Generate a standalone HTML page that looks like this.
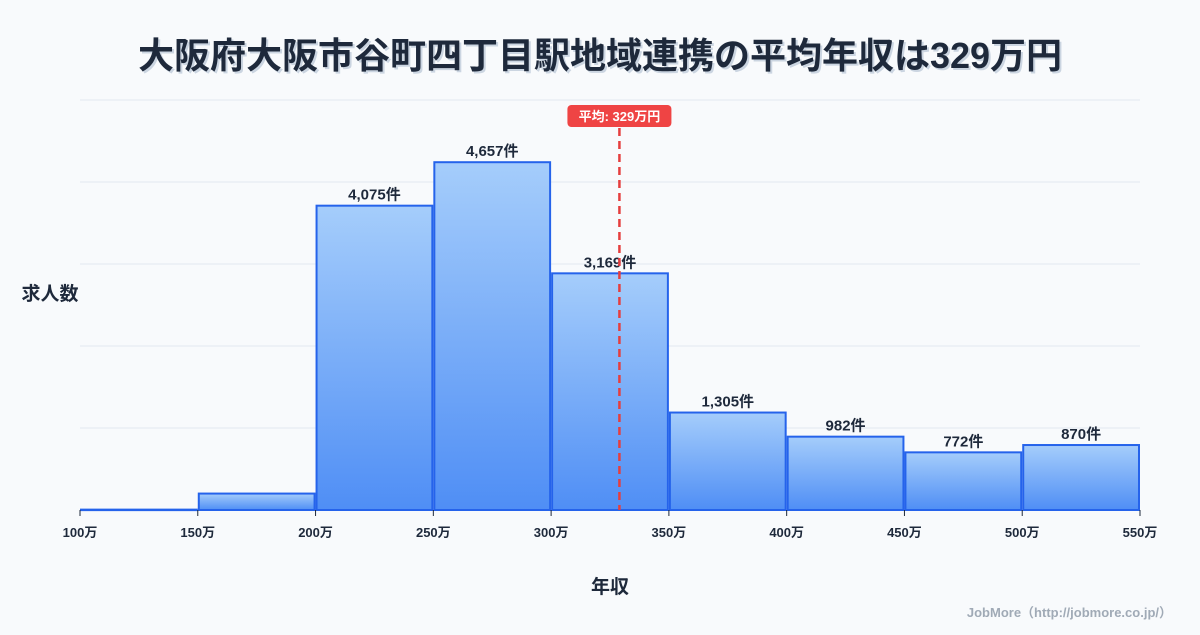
<!DOCTYPE html>
<html><head><meta charset="utf-8">
<style>
html,body{margin:0;padding:0;background:#f8fafc;}
body{width:1200px;height:630px;overflow:hidden;font-family:"Liberation Sans","Noto Sans CJK JP",sans-serif;}
svg text{font-family:"Liberation Sans","Noto Sans CJK JP",sans-serif;}
</style></head>
<body>
<svg width="1200" height="630" viewBox="0 0 1200 630">
<defs>
<linearGradient id="g" x1="0" y1="0" x2="0" y2="1">
<stop offset="0" stop-color="#a5cdfb"/><stop offset="1" stop-color="#4f8ef5"/>
</linearGradient>
</defs>
<text x="600" y="68" text-anchor="middle" font-size="36" font-weight="bold" fill="#cbd5e1" transform="translate(2,2)">大阪府大阪市谷町四丁目駅地域連携の平均年収は329万円</text>
<text x="600" y="68" text-anchor="middle" font-size="36" font-weight="bold" fill="#1e293b">大阪府大阪市谷町四丁目駅地域連携の平均年収は329万円</text>
<g id="grid"></g>
<g id="bars"></g>
<g id="xaxis"></g>
<text x="50" y="300" text-anchor="middle" font-size="19" font-weight="bold" fill="#1e293b">求人数</text>
<text x="610" y="593" text-anchor="middle" font-size="19" font-weight="bold" fill="#1e293b">年収</text>
<text x="1172" y="617" text-anchor="end" font-size="13" font-weight="bold" fill="#a0aab6">JobMore（http://jobmore.co.jp/）</text>
<g id="avg"></g>
</svg>
<script>
const binEdges=[100,150,200,250,300,350,400,450,500,550];
const counts=[5,220,4075,4657,3169,1305,982,772,870];
const countLabels=["","","4,075件","4,657件","3,169件","1,305件","982件","772件","870件"];
const avgValue=329;
const yMax=5490;
const NS="http://www.w3.org/2000/svg";
const x0=80,x1=1140,yB=510,yT=100;
const xs=v=>x0+(v-100)/(550-100)*(x1-x0);
const ys=v=>yB-v/yMax*(yB-yT);
function mk(t,a,p){const e=document.createElementNS(NS,t);for(const k in a)e.setAttribute(k,a[k]);p.appendChild(e);return e;}
const grid=document.getElementById('grid');
for(let i=0;i<=5;i++){const y=yT+i*(yB-yT)/5;
const l=mk('line',{x1:x0,x2:x1,y1:y,y2:y,stroke:'#e2e8f0','stroke-width':1},grid);

}
const bars=document.getElementById('bars');
counts.forEach((c,i)=>{
const xa=xs(binEdges[i])+1,xb=xs(binEdges[i+1])-1,y=ys(c);
const r=mk('rect',{x:xa,y:y,width:xb-xa,height:Math.max(yB-y,0.5),fill:'url(#g)',stroke:'#2563eb','stroke-width':2},bars);


if(countLabels[i]){const t=mk('text',{x:(xa+xb)/2,y:y-6,'text-anchor':'middle','font-size':15,'font-weight':'bold',fill:'#1e293b'},bars);
t.textContent=countLabels[i];

}
});
const xa=document.getElementById('xaxis');
binEdges.forEach(v=>{const x=xs(v);
const tk=mk('line',{x1:x,x2:x,y1:yB,y2:yB+6,stroke:'#1e293b','stroke-width':1},xa);


const t=mk('text',{x:x,y:yB+27,'text-anchor':'middle','font-size':13,'font-weight':'bold',fill:'#1e293b'},xa);
t.textContent=v+'万';

});
const avg=document.getElementById('avg');
const ax=xs(avgValue);
const al=mk('line',{x1:ax,x2:ax,y1:128,y2:yB,stroke:'#e53e3e','stroke-width':2.5,'stroke-dasharray':'8,5'},avg);


const ab=mk('rect',{x:ax-52,y:105,width:104,height:22,rx:4,fill:'#ef4444'},avg);


const at=mk('text',{x:ax,y:121,'text-anchor':'middle','font-size':13,'font-weight':'bold',fill:'#fff'},avg);
at.textContent='平均: '+avgValue+'万円';


</script>
</body></html>
